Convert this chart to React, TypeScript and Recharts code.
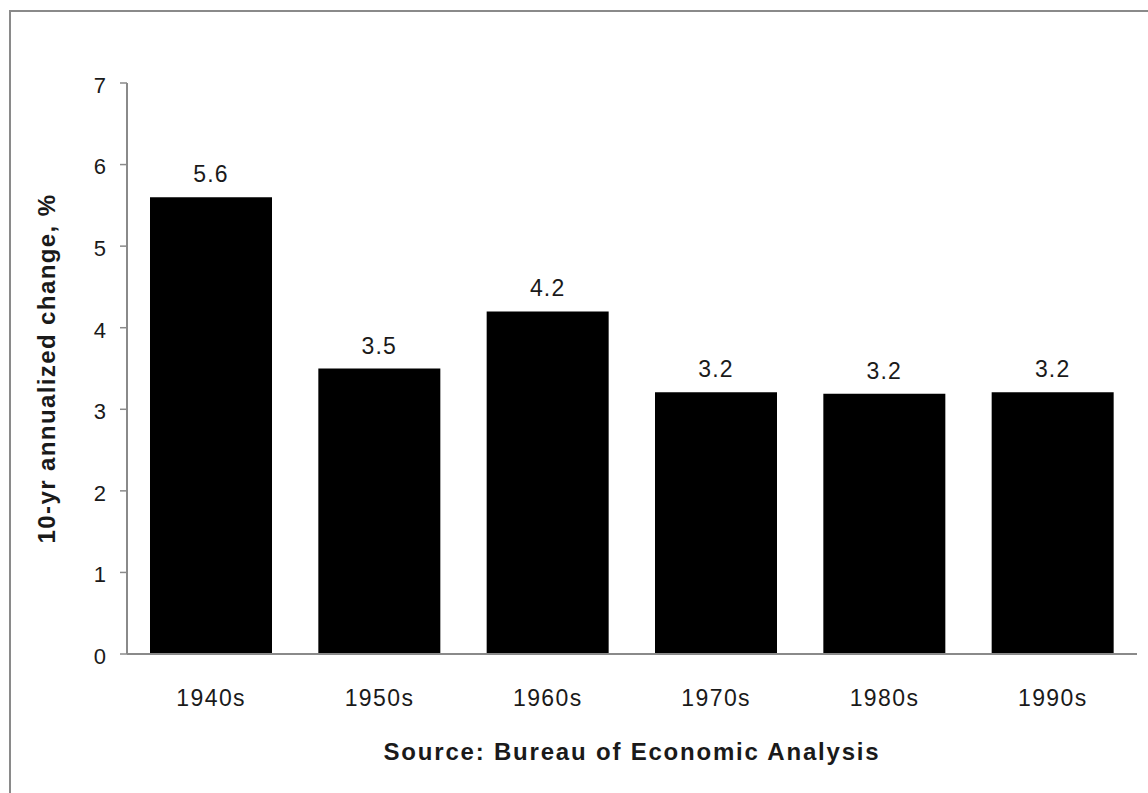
import React from "react";
import {
  BarChart,
  Bar,
  XAxis,
  YAxis,
  LabelList,
} from "recharts";

const decades = ["1940s", "1950s", "1960s", "1970s", "1980s", "1990s"];
const growth = [5.6, 3.5, 4.2, 3.21, 3.19, 3.21];
const yTicks = [0, 1, 2, 3, 4, 5, 6, 7];

const data = decades.map((decade, i) => ({ decade, value: growth[i] }));

const font = "'Liberation Sans', Arial, sans-serif";
const ink = "#1a1a1a";
const frame = "#8a8a8a";

export default function App() {
  return (
    <div
      style={{
        position: "absolute",
        left: 0,
        top: 0,
        width: 1148,
        height: 793,
        overflow: "hidden",
        background: "#fff",
      }}
    >
      <div
        style={{
          position: "absolute",
          left: 9,
          top: 10,
          width: 1200,
          height: 900,
          borderTop: `2px solid ${frame}`,
          borderLeft: `2px solid ${frame}`,
        }}
      />
      <div style={{ position: "absolute", left: 0, top: 0 }}>
        <BarChart
          width={1148}
          height={793}
          data={data}
          margin={{ top: 83, right: 11, bottom: 0, left: 0 }}
          style={{ fontFamily: font }}
        >
          <XAxis
            dataKey="decade"
            height={139}
            axisLine={{ stroke: frame, strokeWidth: 2 }}
            tickLine={false}
            tickSize={0}
            tickMargin={36}
            tick={{ fontSize: 23, fill: ink, letterSpacing: 1.4 }}
            label={{
              value: "Source: Bureau of Economic Analysis",
              position: "insideBottom",
              offset: 33,
              style: {
                fontSize: 24,
                fontWeight: "bold",
                fill: ink,
                letterSpacing: 1.8,
              },
            }}
          />
          <XAxis
            xAxisId="top"
            dataKey="decade"
            orientation="top"
            height={0}
            axisLine={{ stroke: frame, strokeWidth: 2 }}
            tick={false}
            tickLine={false}
          />
          <YAxis
            domain={[0, 7]}
            ticks={yTicks}
            width={127}
            interval={0}
            axisLine={{ stroke: frame, strokeWidth: 2 }}
            tickLine={{ stroke: frame, strokeWidth: 1.5 }}
            tickSize={7}
            tickMargin={14}
            tick={{ fontSize: 22, fill: ink, dy: 2 }}
            label={{
              value: "10-yr annualized change, %",
              angle: -90,
              position: "insideLeft",
              offset: 46,
              style: {
                textAnchor: "middle",
                fontSize: 24,
                fontWeight: "bold",
                fill: ink,
                letterSpacing: 1.4,
              },
            }}
          />
          <YAxis
            yAxisId="right"
            orientation="right"
            domain={[0, 7]}
            width={0}
            axisLine={{ stroke: frame, strokeWidth: 2 }}
            tick={false}
            tickLine={false}
          />
          <Bar dataKey="value" fill="#000" barSize={122} isAnimationActive={false}>
            <LabelList
              dataKey="value"
              position="top"
              offset={15}
              formatter={(v: any) => Number(v).toFixed(1)}
              style={{ fontSize: 23, fill: ink, letterSpacing: 1.2 }}
            />
          </Bar>
        </BarChart>
      </div>
    </div>
  );
}
